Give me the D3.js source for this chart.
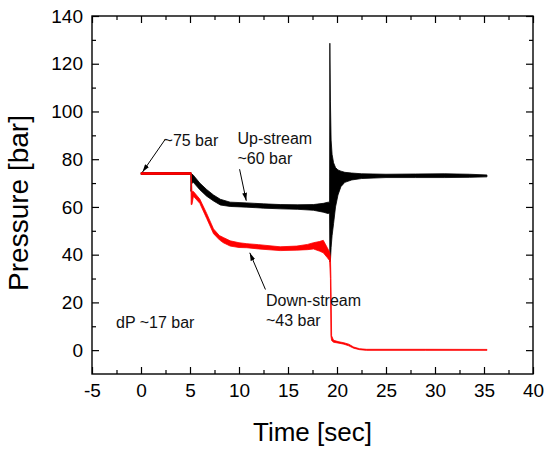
<!DOCTYPE html>
<html>
<head>
<meta charset="utf-8">
<script src="https://cdn.jsdelivr.net/npm/d3@7"></script>
<style>
  body { margin: 0; background: #fff; }
  svg { display: block; font-family: "Liberation Sans", Arial, sans-serif; }
</style>
</head>
<body>
<svg id="chart"></svg>
<script>
// values: time [s], lower and upper edge of the noisy trace [bar]
const upTime = [0, 5.08, 5.1, 5.15, 5.3, 6.0, 6.7, 7.4, 8.1, 9.1, 10.8, 12.5, 14.2, 16, 17.6, 18.6, 19.1, 19.24, 19.27, 19.33, 19.4, 19.5, 19.65, 19.85, 20.1, 20.4, 20.8, 21.5, 22.5, 25, 28, 31, 33.5, 35.3];
const upLow = [73.6, 73.6, 66.5, 69.5, 70.5, 67.2, 64.5, 62.5, 60.8, 60.2, 59.9, 59.5, 59.2, 59.0, 58.6, 57.8, 57.2, 57.5, 37, 37.5, 43, 48, 53, 60, 65, 68.5, 70.3, 71.3, 71.9, 72.3, 72.3, 72.3, 72.4, 72.6];
const upHigh = [74.4, 74.4, 74.4, 73.8, 73.5, 70, 67.3, 65, 63.2, 62.0, 61.7, 61.3, 61.0, 60.9, 61.0, 61.5, 62.0, 62, 128.6, 104, 88, 82, 78.5, 76.5, 75.5, 75, 74.5, 74.2, 73.9, 73.7, 73.8, 73.9, 73.7, 73.4];

const downTime = [0, 5.1, 5.12, 5.2, 5.35, 6.0, 6.7, 7.4, 8.0, 8.4, 9.1, 10, 10.8, 12, 14.2, 15.9, 17, 17.6, 18.2, 18.6, 19.0, 19.25, 19.33, 19.38, 19.45, 19.65, 20.2, 20.7, 21.2, 21.7, 22.3, 23, 29, 35.3];
const downLow = [73.6, 73.6, 61, 61, 64.5, 61.5, 55.2, 48.8, 46.2, 45, 43.6, 43, 42.9, 42.4, 41.7, 41.9, 42.1, 42.4, 41.5, 40.8, 38.8, 37.5, 30, 6, 4, 3.3, 2.9, 2.5, 1.8, 0.8, 0.2, -0.1, -0.1, -0.1];
const downHigh = [74.4, 74.4, 74.4, 66.5, 66.5, 63.3, 57.3, 50.8, 48, 47.2, 45.8, 45, 44.6, 44.2, 43.3, 43.6, 44.3, 45, 45.5, 46, 43, 41, 39, 30, 6, 4.1, 3.5, 3.1, 2.5, 1.3, 0.6, 0.35, 0.35, 0.3];

const xTicks = [-5, 0, 5, 10, 15, 20, 25, 30, 35, 40];
const yTicks = [0, 20, 40, 60, 80, 100, 120, 140];

// annotations: text, position [t, bar]
const notes = [
  { text: "~75 bar", t: 2.3, v: 85.5 },
  { text: "Up-stream", t: 9.85, v: 86.5 },
  { text: "~60 bar", t: 9.85, v: 78.0 },
  { text: "Down-stream", t: 12.75, v: 18.6 },
  { text: "~43 bar", t: 12.75, v: 10.0 },
  { text: "dP ~17 bar", t: -2.55, v: 9.3 }
];
// arrows: from [t, bar] to [t, bar]
const arrows = [
  { from: [2.5, 88.5], to: [0.15, 74.6] },
  { from: [10.06, 75.8], to: [10.74, 62.6] },
  { from: [12.7, 25.4], to: [11.1, 40.8] }
];

const width = 544, height = 452;
const margin = { top: 16, right: 11, bottom: 78, left: 92 };

const svg = d3.select("#chart")
  .attr("width", width)
  .attr("height", height);

const x = d3.scaleLinear().domain([-5, 40]).range([margin.left, width - margin.right]);
const y = d3.scaleLinear().domain([-10, 140]).range([height - margin.bottom, margin.top]);

const up = upTime.map((t, i) => ({ t, lo: upLow[i], hi: upHigh[i] }));
const down = downTime.map((t, i) => ({ t, lo: downLow[i], hi: downHigh[i] }));

const band = d3.area()
  .x(d => x(d.t))
  .y0(d => y(d.lo))
  .y1(d => y(d.hi));

svg.append("path").datum(up)
  .attr("d", band)
  .attr("fill", "#000")
  .attr("stroke", "#000")
  .attr("stroke-width", 0.8);

svg.append("path").datum(down)
  .attr("d", band)
  .attr("fill", "#ff0000")
  .attr("stroke", "#ff0000")
  .attr("stroke-width", 0.8);

// axes, ticks pointing inward on all four sides
const xMinor = d3.range(-2.5, 40, 5);
const yMinor = d3.range(-10, 140, 20).filter(v => v > -10);
const plain = d => String(d); // hyphen, not the unicode minus

const bottom = svg.append("g")
  .attr("transform", `translate(0,${y(-10)})`)
  .call(d3.axisBottom(x).tickValues(xTicks).tickFormat(plain).tickSize(-7).tickSizeOuter(0).tickPadding(10));
svg.append("g")
  .attr("transform", `translate(0,${y(-10)})`)
  .call(d3.axisBottom(x).tickValues(xMinor).tickSize(-4).tickFormat(""));

const left = svg.append("g")
  .attr("transform", `translate(${x(-5)},0)`)
  .call(d3.axisLeft(y).tickValues(yTicks).tickFormat(plain).tickSize(-7).tickSizeOuter(0).tickPadding(9));
svg.append("g")
  .attr("transform", `translate(${x(-5)},0)`)
  .call(d3.axisLeft(y).tickValues(yMinor).tickSize(-4).tickFormat(""));

svg.append("g")
  .attr("transform", `translate(0,${y(140)})`)
  .call(d3.axisTop(x).tickValues(xTicks).tickSize(-7).tickFormat(""));
svg.append("g")
  .attr("transform", `translate(0,${y(140)})`)
  .call(d3.axisTop(x).tickValues(xMinor).tickSize(-4).tickFormat(""));

svg.append("g")
  .attr("transform", `translate(${x(40)},0)`)
  .call(d3.axisRight(y).tickValues(yTicks).tickSize(-7).tickFormat(""));
svg.append("g")
  .attr("transform", `translate(${x(40)},0)`)
  .call(d3.axisRight(y).tickValues(yMinor).tickSize(-4).tickFormat(""));

svg.selectAll(".domain").remove();
svg.selectAll(".tick line").attr("stroke", "#000").attr("stroke-width", 1.2);

[bottom, left].forEach(g => g.selectAll("text")
  .attr("fill", "#000")
  .style("font-family", "'Liberation Sans', Arial, sans-serif")
  .style("font-size", "19px"));

// frame
svg.append("rect")
  .attr("x", x(-5))
  .attr("y", y(140))
  .attr("width", x(40) - x(-5))
  .attr("height", y(-10) - y(140))
  .attr("fill", "none")
  .attr("stroke", "#000")
  .attr("stroke-width", 1.4);

// axis titles
svg.append("text")
  .attr("x", (x(-5) + x(40)) / 2)
  .attr("y", 441)
  .attr("text-anchor", "middle")
  .style("font-size", "26px")
  .text("Time [sec]");

svg.append("text")
  .attr("transform", `translate(28,203) rotate(-90)`)
  .attr("text-anchor", "middle")
  .style("font-size", "28px")
  .text("Pressure [bar]");

// annotations
svg.append("defs").append("marker")
  .attr("id", "head")
  .attr("viewBox", "0 0 10 6")
  .attr("refX", 10)
  .attr("refY", 3)
  .attr("markerWidth", 8)
  .attr("markerHeight", 5)
  .attr("markerUnits", "userSpaceOnUse")
  .attr("orient", "auto")
  .append("path")
  .attr("d", "M0,0L10,3L0,6Z")
  .attr("fill", "#000");

svg.selectAll(".arrow").data(arrows).enter()
  .append("line")
  .attr("class", "arrow")
  .attr("x1", d => x(d.from[0]))
  .attr("y1", d => y(d.from[1]))
  .attr("x2", d => x(d.to[0]))
  .attr("y2", d => y(d.to[1]))
  .attr("stroke", "#000")
  .attr("stroke-width", 1)
  .attr("marker-end", "url(#head)");

svg.selectAll(".note").data(notes).enter()
  .append("text")
  .attr("class", "note")
  .attr("x", d => x(d.t))
  .attr("y", d => y(d.v))
  .style("font-size", "16px")
  .attr("fill", "#111")
  .text(d => d.text);
</script>
</body>
</html>
